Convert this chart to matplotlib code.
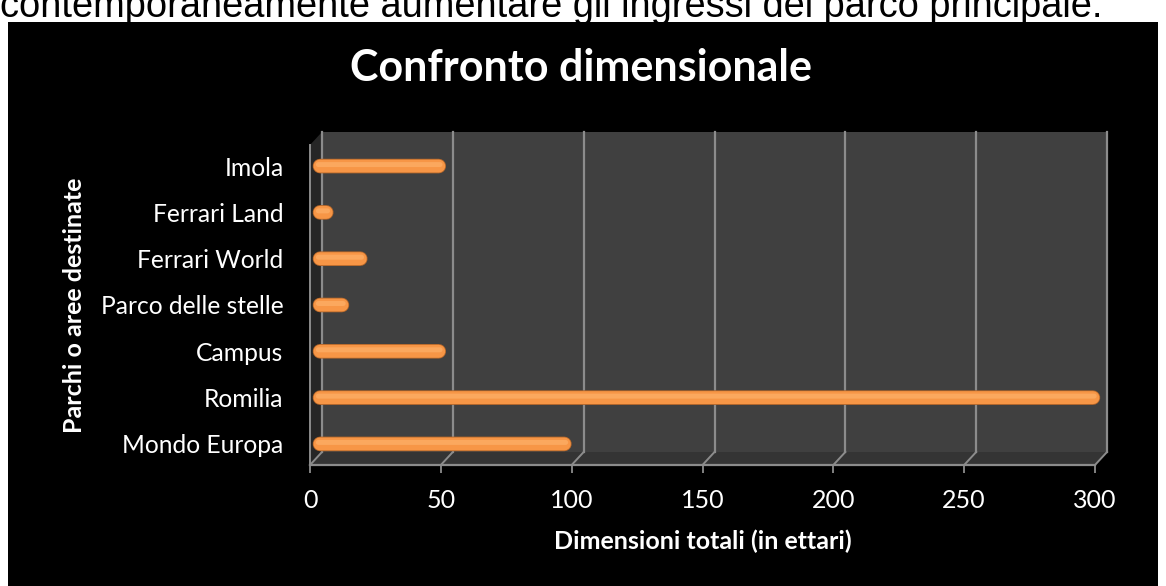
import matplotlib
matplotlib.use("Agg")
import matplotlib.pyplot as plt
from matplotlib import transforms
from matplotlib.patches import Rectangle, Polygon, FancyArrowPatch
import numpy as np

# ---- data ----
categories = ["Mondo Europa", "Romilia", "Campus", "Parco delle stelle",
              "Ferrari World", "Ferrari Land", "Imola"]
values = [100, 302, 52, 15, 22, 9, 52]
xticks = [0, 50, 100, 150, 200, 250, 300]
title = "Confronto dimensionale"
xlabel = "Dimensioni totali (in ettari)"
ylabel = "Parchi o aree destinate"
top_text = "contemporaneamente aumentare gli ingressi del parco principale."

W, H = 1166, 586
FONT = ["Lato", "DejaVu Sans"]
plt.rcParams["font.family"] = FONT

fig = plt.figure(figsize=(W / 100, H / 100), dpi=100, facecolor="white")

def fx(px):
    return px / W

def fy(py):
    return 1 - py / H

# black chart background
fig.patches.append(Rectangle((fx(8), 0), fx(1158) - fx(8), fy(22),
                             transform=fig.transFigure, facecolor="black",
                             edgecolor="none", zorder=0))
# cut-off text above the chart
fig.text(fx(0), fy(17), top_text, family=["Liberation Sans"], fontsize=27.4,
         color="black", ha="left", va="baseline", zorder=0.5)

# front plane of the chart
L, R, T, B = 310, 1095, 145, 465
ax = fig.add_axes([fx(L), fy(B), fx(R) - fx(L), fy(T) - fy(B)])
ax.set_zorder(2)
ax.set_facecolor("none")
for s in ax.spines.values():
    s.set_visible(False)
ax.set_xlim(xticks[0], xticks[-1])
ylo, yhi = -0.455, len(categories) - 1 + 0.455
ax.set_ylim(ylo, yhi)

DX, DY = 12, 13  # depth offset in pixels
back = transforms.offset_copy(ax.transData, fig=fig, x=DX, y=DY, units="dots")
grid_c = "#8c8c8c"

# back wall
ax.add_patch(Rectangle((xticks[0], ylo), xticks[-1] - xticks[0], yhi - ylo,
                       transform=back, facecolor="#404040", edgecolor="none",
                       zorder=0, clip_on=False))
# floor + left wall (display coordinates derived from data transforms)
def disp(x, y, tr):
    return tr.transform((x, y))

fl = [disp(xticks[0], ylo, ax.transData), disp(xticks[-1], ylo, ax.transData),
      disp(xticks[-1], ylo, back), disp(xticks[0], ylo, back)]
ax.add_patch(Polygon(fl, closed=True, transform=None, facecolor="#343434",
                     edgecolor="none", zorder=0.5, clip_on=False))
lw_ = [disp(xticks[0], ylo, ax.transData), disp(xticks[0], yhi, ax.transData),
       disp(xticks[0], yhi, back), disp(xticks[0], ylo, back)]
ax.add_patch(Polygon(lw_, closed=True, transform=None, facecolor="#262626",
                     edgecolor="none", zorder=0.6, clip_on=False))

# grid lines
for t in xticks:
    ax.plot([t, t], [ylo, yhi], transform=back, color=grid_c, lw=1.6,
            zorder=1, clip_on=False)
    a = disp(t, ylo, back)
    b = disp(t, ylo, ax.transData)
    ax.plot([a[0], b[0]], [a[1], b[1]], transform=None, color=grid_c, lw=1.4,
            zorder=1, clip_on=False)
ax.plot([xticks[0], xticks[-1]], [ylo, ylo], color=grid_c, lw=1.6, zorder=1,
        clip_on=False)
ax.plot([xticks[0], xticks[0]], [ylo, yhi], color=grid_c, lw=1.4, zorder=1,
        clip_on=False)

# bars (pill shaped)
up = transforms.offset_copy(ax.transData, fig=fig, x=0, y=1.5, units="dots")
for i, v in enumerate(values):
    base = FancyArrowPatch((0, i), (v, i), arrowstyle="-", shrinkA=7.2,
                           shrinkB=5.25, linewidth=10.5, color="#b5672a",
                           capstyle="round", zorder=3, clip_on=False)
    ax.add_patch(base)
    mid = FancyArrowPatch((0, i), (v, i), arrowstyle="-", shrinkA=7.2,
                          shrinkB=5.25, linewidth=9.3, color="#f79646",
                          capstyle="round", zorder=4, clip_on=False)
    ax.add_patch(mid)
    hi = FancyArrowPatch((0, i), (v, i), arrowstyle="-", shrinkA=6.0,
                         shrinkB=4.3, linewidth=3.6, color="#fba85e",
                         capstyle="round", zorder=5, transform=up,
                         clip_on=False)
    ax.add_patch(hi)

# ticks and labels
ax.set_xticks(xticks)
ax.set_xticklabels([str(t) for t in xticks])
ax.tick_params(axis="x", colors=grid_c, length=6, width=1.3, pad=11,
               labelcolor="white", labelsize=18)
ax.set_yticks(range(len(categories)))
ax.set_yticklabels(categories)
ax.tick_params(axis="y", length=0, pad=19, labelcolor="white", labelsize=17.7)

fig.text(fx(581), fy(68), title, color="white", fontsize=31, weight="bold",
         ha="center", va="center")
fig.text(fx(703), fy(541), xlabel, color="white", fontsize=18, weight="bold",
         ha="center", va="center")
fig.text(fx(75), fy(305), ylabel, color="white", fontsize=18, weight="bold",
         ha="center", va="center", rotation=90)

fig.savefig("out.png", dpi=100, facecolor=fig.get_facecolor())
